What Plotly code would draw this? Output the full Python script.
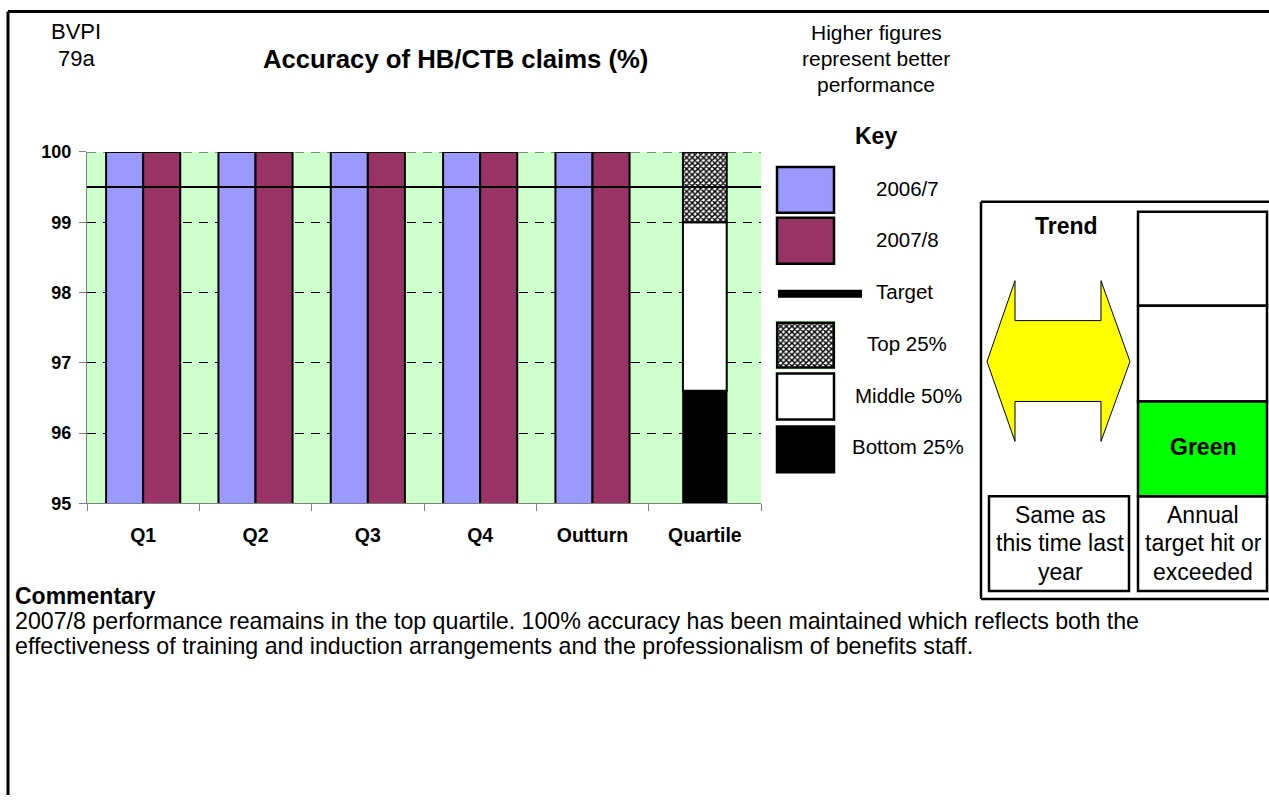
import plotly.graph_objects as go

W, H = 1269, 805
FONT = "Liberation Sans, Arial, sans-serif"

# ---- data ----
categories = ["Q1", "Q2", "Q3", "Q4", "Outturn", "Quartile"]
periods = ["Q1", "Q2", "Q3", "Q4", "Outturn"]
values_2006_7 = [100, 100, 100, 100, 100]
values_2007_8 = [100, 100, 100, 100, 100]
target_value = 99.5
quartile_bottom_upper = 96.6
quartile_top_lower = 99.0
quartile_max = 100.0
axis_min = 95
axis_max = 100
y_ticks = [95, 96, 97, 98, 99, 100]

BLUE = "#9999FF"
PURPLE = "#993366"
BG = "#CCFFCC"

# vertical calibration of the photographed page
Y_OFF, Y_SC = 8.8, 0.977


def px(x):
    return min(max(x, 0), W) / W


def py(y):
    yy = (y - Y_OFF) / Y_SC
    return 1 - min(max(yy, 0), H) / H


fig = go.Figure()

bar_line = dict(color="black", width=2)
fig.add_trace(go.Bar(x=periods, y=values_2006_7, name="2006/7", offset=-0.33, width=0.33,
                     marker=dict(color=BLUE, line=bar_line)))
fig.add_trace(go.Bar(x=periods, y=values_2007_8, name="2007/8", offset=0.0, width=0.33,
                     marker=dict(color=PURPLE, line=bar_line)))
# quartile stacked bar
fig.add_trace(go.Bar(x=["Quartile"], y=[quartile_bottom_upper - axis_min], base=[axis_min],
                     name="Bottom 25%", offset=-0.195, width=0.39,
                     marker=dict(color="black", line=dict(color="black", width=1.5))))
fig.add_trace(go.Bar(x=["Quartile"], y=[quartile_top_lower - quartile_bottom_upper],
                     base=[quartile_bottom_upper], name="Middle 50%", offset=-0.195, width=0.39,
                     marker=dict(color="white", line=dict(color="black", width=2))))
checker = dict(shape="x", size=4, solidity=0.6, fgcolor="black", bgcolor="white", fillmode="replace")
fig.add_trace(go.Bar(x=["Quartile"], y=[quartile_max - quartile_top_lower],
                     base=[quartile_top_lower], name="Top 25%", offset=-0.195, width=0.39,
                     marker=dict(color="white", pattern=checker, line=dict(color="black", width=2))))
# key swatch for Top 25% (pattern) on its own small axes
fig.add_trace(go.Bar(x=[0], y=[1], width=1, xaxis="x2", yaxis="y2", showlegend=False,
                     marker=dict(color="white", pattern=checker, line=dict(color="black", width=2.5))))

shapes = []
annotations = []

# gridline at the top of the range (dashed) and target line
shapes.append(dict(type="line", xref="x domain", yref="y", x0=0, x1=1, y0=axis_max, y1=axis_max,
                   line=dict(color="black", width=1, dash="9px,7px"), layer="below"))
shapes.append(dict(type="line", xref="x domain", yref="y", x0=0, x1=1,
                   y0=target_value, y1=target_value, line=dict(color="black", width=2)))


def rect(x0, y0, x1, y1, fill="rgba(0,0,0,0)", lw=2.5, lc="black"):
    shapes.append(dict(type="rect", xref="paper", yref="paper", x0=px(x0), x1=px(x1),
                       y0=py(y1), y1=py(y0), fillcolor=fill, line=dict(color=lc, width=lw),
                       layer="above"))


def line(x0, y0, x1, y1, lw=2.5, color="black"):
    shapes.append(dict(type="line", xref="paper", yref="paper", x0=px(x0), x1=px(x1),
                       y0=py(y0), y1=py(y1), line=dict(color=color, width=lw)))


def text(x, y, s, size, bold=False, xanchor="center"):
    annotations.append(dict(x=px(x), y=py(y - 1.5), xref="paper", yref="paper",
                            text=s, showarrow=False, xanchor=xanchor, yanchor="middle",
                            font=dict(size=size, color="black", family=FONT,
                                      weight="bold" if bold else "normal")))


# page frame
line(8, 10.3, 1269, 10.3, lw=3)
line(8, 10.3, 8, 805, lw=3)

# header texts
text(76, 32, "BVPI", 22)
text(76, 59, "79a", 22)
text(455, 59, "Accuracy of HB/CTB claims (%)", 25.7, bold=True)
text(876, 33, "Higher figures", 21)
text(876, 59, "represent better", 21)
text(876, 85, "performance", 21)
text(876, 137, "Key", 23, bold=True)

# key swatches
rect(777, 166, 834, 212, fill=BLUE)
rect(777, 217, 834, 263, fill=PURPLE)
line(778, 293, 862, 293, lw=8)
rect(777, 373, 834, 419, fill="white")
rect(777, 426, 834, 472, fill="black")
text(907, 189, "2006/7", 20.5)
text(907, 240, "2007/8", 20.5)
text(874, 292, "Target", 20.5, xanchor="left")
text(907, 344, "Top 25%", 20.5)
text(908, 397, "Middle 50%", 20.5)
text(908, 448, "Bottom 25%", 20.5)

# trend panel
line(981, 201, 1269, 201, lw=2.5)
line(981, 201, 981, 599, lw=2.5)
line(981, 599, 1269, 599, lw=2.5)
text(1066, 227, "Trend", 23, bold=True)
arrow_pts = [(987, 361), (1015, 280), (1015, 320), (1101, 320), (1101, 280), (1130, 361),
             (1101, 441), (1101, 401), (1015, 401), (1015, 441)]
path = "M " + " L ".join(f"{px(a):.5f},{py(b):.5f}" for a, b in arrow_pts) + " Z"
shapes.append(dict(type="path", xref="paper", yref="paper", path=path, fillcolor="#FFFF00",
                   line=dict(color="black", width=1)))
rect(989, 496, 1129, 591)
text(1060, 516, "Same as", 23)
text(1060, 544, "this time last", 23)
text(1060, 573, "year", 23)
rect(1138, 211, 1267, 305)
rect(1138, 305, 1267, 401)
rect(1138, 401, 1267, 496, fill="#00FF00")
rect(1138, 496, 1267, 591)
text(1203, 448, "Green", 23, bold=True)
text(1203, 516, "Annual", 23)
text(1203, 544, "target hit or", 23)
text(1203, 573, "exceeded", 23)

# commentary
text(12.5, 597, "Commentary", 23, bold=True, xanchor="left")
text(12.5, 622, "2007/8 performance reamains in the top quartile. 100% accuracy has been maintained which reflects both the", 23.2, xanchor="left")
text(12.5, 648, "effectiveness of training and induction arrangements and the professionalism of benefits staff.", 23.2, xanchor="left")

fig.update_layout(
    width=W, height=H,
    margin=dict(l=0, r=0, t=0, b=0),
    paper_bgcolor="white",
    plot_bgcolor=BG,
    barmode="overlay",
    showlegend=False,
    font=dict(family=FONT, color="black"),
    shapes=shapes,
    annotations=annotations,
    xaxis=dict(domain=[px(87), px(761)], type="category", categoryorder="array",
               categoryarray=categories, range=[-0.5, 5.5], showgrid=False,
               showline=True, linecolor="#808080", linewidth=1,
               ticks="outside", tickson="boundaries", ticklen=7, tickcolor="#808080",
               tickfont=dict(size=19.5, weight="bold", family=FONT), ticklabelstandoff=14,
               fixedrange=True),
    yaxis=dict(domain=[py(503), py(151)], range=[axis_min, axis_max], tickvals=y_ticks,
               showgrid=True, gridcolor="black", griddash="9px,7px", gridwidth=1,
               showline=True, linecolor="#808080", linewidth=1, zeroline=False,
               ticks="outside", ticklen=7, tickcolor="#808080",
               tickfont=dict(size=18, weight="bold", family=FONT), ticklabelstandoff=4,
               fixedrange=True),
    xaxis2=dict(domain=[px(775), px(836)], range=[-0.54, 0.54], visible=False, anchor="y2",
                fixedrange=True),
    yaxis2=dict(domain=[py(369), py(320)], range=[-0.045, 1.045], visible=False, anchor="x2",
                fixedrange=True),
)

fig.write_html("out.html")
